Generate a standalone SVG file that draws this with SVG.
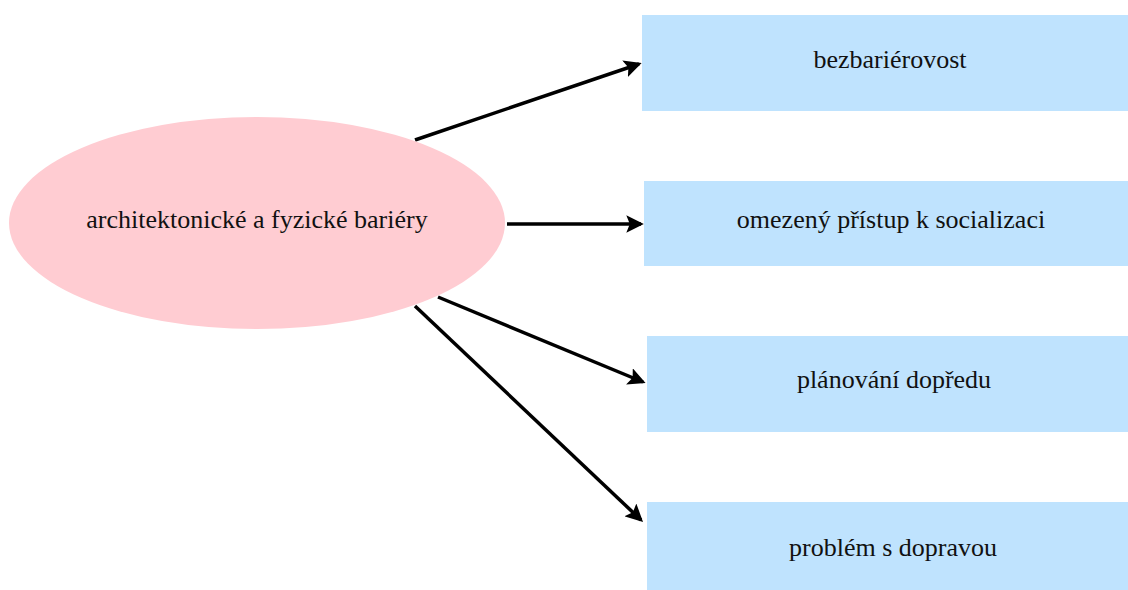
<svg xmlns="http://www.w3.org/2000/svg" width="1128" height="590" viewBox="0 0 1128 590">
<style>
.box{fill:#bfe3fe}
.ell{fill:#ffccd2}
.lbl{font-family:"Liberation Serif","DejaVu Serif",serif;font-size:26px;fill:#111;text-anchor:middle}
.edge{stroke:#000;stroke-width:3.5;fill:none;marker-end:url(#ah)}
</style>
<defs>
<marker id="ah" markerWidth="5" markerHeight="5" refX="4.2" refY="2.5" orient="auto" markerUnits="strokeWidth">
<path d="M0,0 L5,2.5 L0,5 L1,2.5 Z" fill="#000"/>
</marker>
</defs>
<rect width="1128" height="590" fill="#fff"/>
<g id="connectors">
<line class="edge" x1="415" y1="140" x2="639" y2="64"/>
<line class="edge" x1="507" y1="224" x2="641" y2="224"/>
<line class="edge" x1="438" y1="297" x2="643" y2="382"/>
<line class="edge" x1="415" y1="306" x2="641" y2="520"/>
</g>
<g id="n0">
<ellipse class="ell" cx="257" cy="223" rx="248" ry="106"/>
<text class="lbl" x="257" y="228">architektonické a fyzické bariéry</text>
</g>
<g id="n1">
<rect class="box" x="642" y="15" width="486" height="96"/>
<text class="lbl" x="890" y="68">bezbariérovost</text>
</g>
<g id="n2">
<rect class="box" x="644" y="181" width="484" height="85"/>
<text class="lbl" x="891" y="228">omezený přístup k socializaci</text>
</g>
<g id="n3">
<rect class="box" x="647" y="336" width="481" height="96"/>
<text class="lbl" x="894" y="388">plánování dopředu</text>
</g>
<g id="n4">
<rect class="box" x="647" y="502" width="481" height="88"/>
<text class="lbl" x="893" y="556">problém s dopravou</text>
</g>
</svg>
